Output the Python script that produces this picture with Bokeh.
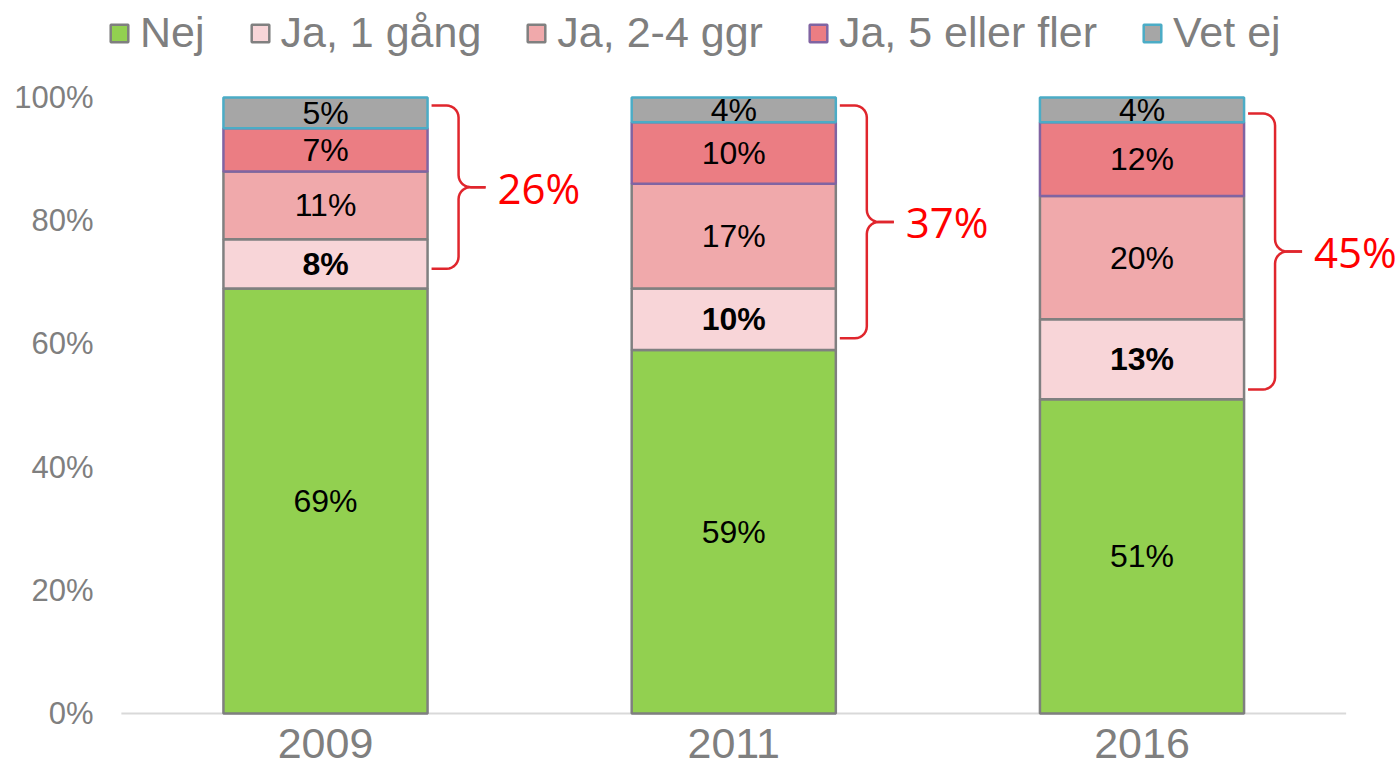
import numpy as np
from bokeh.plotting import figure
from bokeh.models import ColumnDataSource, FixedTicker, PrintfTickFormatter, Range1d
from bokeh.embed import file_html
from bokeh.resources import INLINE
from bokeh.core.properties import value

# ---------------- data ----------------
years = ["2009", "2011", "2016"]
series = ["Nej", "Ja, 1 gång", "Ja, 2-4 ggr", "Ja, 5 eller fler", "Vet ej"]
nej = [69, 59, 51]
ja_1 = [8, 10, 13]
ja_2_4 = [11, 17, 20]
ja_5 = [7, 10, 12]
vet_ej = [5, 4, 4]
y_ticks = [0, 20, 40, 60, 80, 100]
# bracket (annotation) extents, in %
bracket_top = [98.7, 98.7, 97.4]
bracket_bottom = [72.2, 60.9, 52.6]

# ---------------- styles ----------------
fills = ["#92d050", "#f8d5d8", "#f0a9ab", "#eb7d83", "#a6a6a6"]
lines = ["#7f7f7f", "#808080", "#808080", "#8064a2", "#4bacc6"]
FONT = "Liberation Sans"
GRAY = "#7f7f7f"

W, H = 1400, 781
LEFT, BOTTOM = 100, 61
x_start = -(325 - LEFT) / 408.25
x_end = x_start + (W - LEFT) / 408.25
y_start, y_end = -1.136, 115.747
px_x = (W - LEFT) / (x_end - x_start)   # pixels per x unit
px_y = (H - BOTTOM) / (y_end - y_start)  # pixels per y unit

p = figure(width=W, height=H, output_backend="svg", toolbar_location=None,
           x_range=Range1d(x_start, x_end), y_range=Range1d(y_start, y_end),
           min_border_left=LEFT, min_border_right=0, min_border_top=0,
           min_border_bottom=BOTTOM, outline_line_color=None)
p.grid.visible = False

xs = list(range(len(years)))
cols = [nej, ja_1, ja_2_4, ja_5, vet_ej]
keys = ["s%d" % i for i in range(len(cols))]
data = {"x": xs}
for k, c in zip(keys, cols):
    data[k] = c
src = ColumnDataSource(data)

# baseline (category axis line)
p.segment(x0=[-0.5], y0=[0], x1=[len(years) - 0.5], y1=[0], line_color="#d9d9d9", line_width=2)

p.vbar_stack(keys, x="x", width=0.5, source=src, fill_color=fills, line_color=lines,
             line_width=2.5, legend_label=series)

# segment labels
bottoms = np.zeros(len(years))
for i, c in enumerate(cols):
    c = np.array(c, dtype=float)
    mids = bottoms + c / 2
    p.text(x=xs, y=list(mids), text=["%d%%" % v for v in c],
           text_font=value(FONT), text_font_size="32px", text_color="black",
           text_align="center", text_baseline="middle",
           text_font_style="bold" if i == 1 else "normal")
    bottoms = bottoms + c

# curly brackets
def brace(xc, ytop, ybot):
    ux, uy = 1.0 / px_x, 1.0 / px_y
    right = xc + 0.25
    xs0, xv, xt, r = 4, 31, 58, 12
    ymid = (ytop + ybot) / 2
    def X(px):
        return right + px * ux
    out = []
    for sgn, yend in ((1, ytop), (-1, ybot)):
        pts = [(X(xs0), yend)]
        t = np.linspace(np.pi / 2, 0, 8)
        cx, cy = xv - r, -sgn * r
        for a in t:
            pts.append((X(cx + r * np.cos(a)), yend + (cy + sgn * r * np.sin(a)) * uy))
        t2 = np.linspace(np.pi, 1.5 * np.pi, 8)
        cx2, cy2 = xv + r, sgn * r
        for a in t2:
            pts.append((X(cx2 + r * np.cos(a)), ymid + (cy2 + sgn * r * np.sin(a)) * uy))
        pts.append((X(xt), ymid))
        out.append(([q[0] for q in pts], [q[1] for q in pts]))
    return out, X(xt), ymid

bx, by, lx, ly, lt = [], [], [], [], []
for i in range(len(years)):
    parts, tipx, ymid = brace(xs[i], bracket_top[i], bracket_bottom[i])
    for a, b in parts:
        bx.append(a)
        by.append(b)
    lx.append(tipx + 12.0 / px_x)
    ly.append(ymid)
    lt.append("%d%%" % (ja_1[i] + ja_2_4[i] + ja_5[i]))
p.multi_line(xs=bx, ys=by, line_color="#e0262d", line_width=2.5)
p.text(x=lx, y=ly, text=lt, text_font=value("Open Sans"), text_font_size="42px",
       text_color="#ff0000", text_align="left", text_baseline="middle")

# axes
p.yaxis.ticker = FixedTicker(ticks=y_ticks)
p.yaxis.formatter = PrintfTickFormatter(format="%d%%")
p.yaxis.axis_line_color = None
p.yaxis.major_tick_line_color = None
p.yaxis.minor_tick_line_color = None
p.yaxis.major_tick_out = 0
p.yaxis.major_label_standoff = LEFT - 93
p.yaxis.major_label_text_font = FONT
p.yaxis.major_label_text_font_size = "31px"
p.yaxis.major_label_text_color = GRAY

p.xaxis.ticker = FixedTicker(ticks=xs)
p.xaxis.major_label_overrides = {i: y for i, y in zip(xs, years)}
p.xaxis.axis_line_color = None
p.xaxis.major_tick_line_color = None
p.xaxis.minor_tick_line_color = None
p.xaxis.major_tick_out = 0
p.xaxis.major_label_standoff = 8
p.xaxis.major_label_text_font = FONT
p.xaxis.major_label_text_font_size = "43px"
p.xaxis.major_label_text_color = GRAY

# legend
lg = p.legend[0]
lg.orientation = "horizontal"
lg.location = (108 - LEFT, 663)
lg.glyph_width = 22
lg.glyph_height = 22
lg.label_standoff = 10
lg.spacing = 44
lg.padding = 0
lg.margin = 0
lg.border_line_color = None
lg.background_fill_alpha = 0
lg.label_text_font = FONT
lg.label_text_font_size = "43px"
lg.label_text_color = GRAY

open("out.html", "w").write(file_html(p, INLINE))
